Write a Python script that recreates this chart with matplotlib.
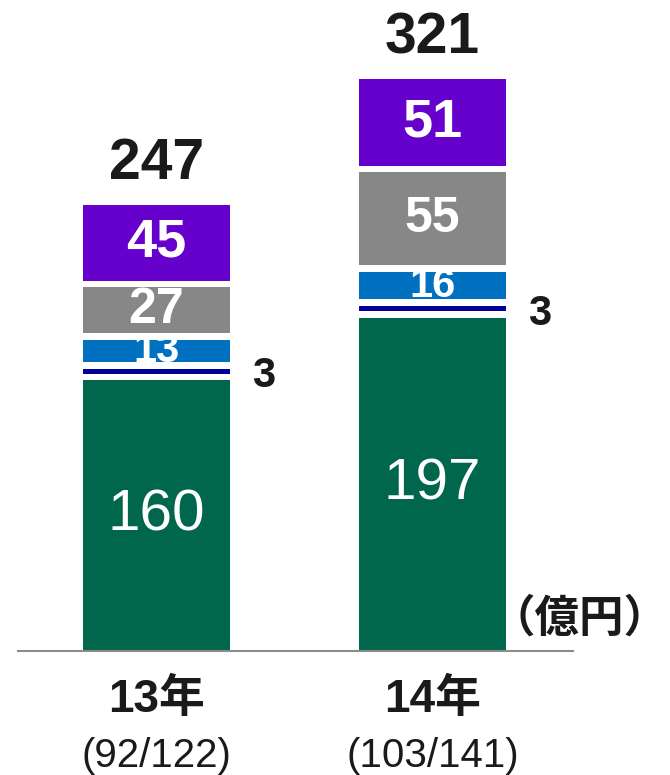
import matplotlib.pyplot as plt
from matplotlib import font_manager

years = ["13年", "14年"]
sub_labels = ["(92/122)", "(103/141)"]
totals = [247, 321]

# stacked segments, bottom to top
seg_names = ["green", "navy", "blue", "gray", "purple"]
green = [160, 197]
navy = [3, 3]
blue = [13, 16]
gray = [27, 55]
purple = [45, 51]
segments = [green, navy, blue, gray, purple]

colors = ["#00664C", "#000099", "#0070C0", "#878787", "#6600CC"]
label_sizes = [42, 30, 30, 36, 39]
label_weights = ["normal", "bold", "bold", "bold", "bold"]

installed = {f.name for f in font_manager.fontManager.ttflist}
narrow = "Liberation Sans Narrow" if "Liberation Sans Narrow" in installed else "Liberation Sans"
latin = ["Liberation Sans", "Noto Sans CJK JP", "DejaVu Sans"]
cjk = ["Noto Sans CJK JP", "DejaVu Sans"]

fig = plt.figure(figsize=(6.7, 7.75), dpi=100)
ax = fig.add_axes([18 / 670, 124 / 775, 555 / 670, 651 / 775])

x = [0, 1]
width = 0.533
gap = 4

bottoms = [0, 0]
for i, (vals, col) in enumerate(zip(segments, colors)):
    b = [bottoms[j] + (gap * i) for j in range(2)]
    ax.bar(x, vals, width=width, bottom=b, color=col, zorder=2)
    for j in range(2):
        mid = b[j] + vals[j] / 2
        if seg_names[i] == "navy":
            ax.annotate(str(vals[j]), (x[j] + width / 2, mid - 3),
                        xytext=(24, 0), textcoords="offset points",
                        ha="center", va="center", fontsize=label_sizes[i],
                        fontweight="bold", color="#1a1a1a", family=latin)
        else:
            ax.text(x[j], mid, str(vals[j]), ha="center", va="center",
                    fontsize=label_sizes[i], fontweight=label_weights[i],
                    color="white", family=latin, zorder=3)
    bottoms = [bottoms[j] + vals[j] for j in range(2)]

tops = [bottoms[j] + gap * (len(segments) - 1) for j in range(2)]
for j in range(2):
    ax.annotate(str(totals[j]), (x[j], tops[j]), xytext=(0, 10),
                textcoords="offset points", ha="center", va="bottom",
                fontsize=41, fontweight="bold", color="#1a1a1a", family=latin)
    ax.text(x[j], -0.075, years[j], transform=ax.get_xaxis_transform(),
            ha="center", va="center", fontsize=33, fontweight="bold",
            color="#1a1a1a", family=latin)
    ax.text(x[j], -0.161, sub_labels[j], transform=ax.get_xaxis_transform(),
            ha="center", va="center", fontsize=29, color="#1a1a1a",
            family=[narrow] + cjk)

fig.text(580 / 670, (775 - 619) / 775, "（億円）", ha="center", va="center",
         fontsize=32, fontweight="bold", color="#1a1a1a", family=cjk)

ax.set_xlim(-0.502, 1.509)
ax.set_ylim(0, 385)
for s in ["top", "right", "left"]:
    ax.spines[s].set_visible(False)
ax.spines["bottom"].set_color("#8c8c8c")
ax.spines["bottom"].set_linewidth(1.5)
ax.spines["bottom"].set_zorder(3)
ax.set_xticks([])
ax.set_yticks([])
ax.patch.set_alpha(0)

fig.savefig("out.png", dpi=100)
